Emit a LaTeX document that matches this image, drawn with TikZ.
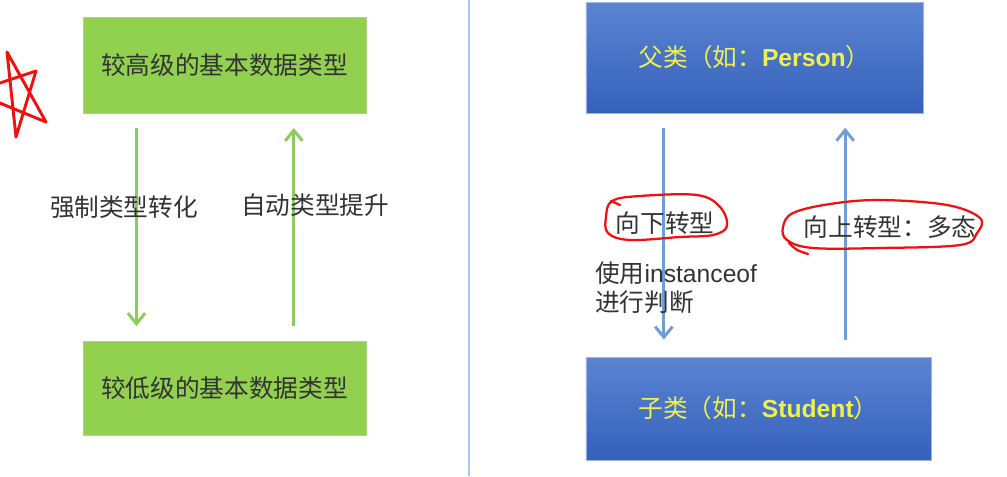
\documentclass[tikz,border=0pt]{standalone}
\usepackage{fontspec}
\setmainfont{Liberation Sans}
\newfontfamily\cjk{Noto Sans CJK SC}
\definecolor{tpGreen}{HTML}{92D050}
\definecolor{tpGreenLine}{HTML}{8DCB5A}
\definecolor{tpBlueTop}{HTML}{5B84D2}
\definecolor{tpBlueBot}{HTML}{3461BA}
\definecolor{tpBlueLine}{HTML}{6C9FD6}
\definecolor{tpSep}{HTML}{A9C7E8}
\definecolor{tpInk}{HTML}{333333}
\definecolor{tpYellow}{HTML}{F0F04C}
\definecolor{tpRed}{HTML}{F01010}
\usetikzlibrary{arrows.meta}

\begin{document}
\begin{tikzpicture}[x=0.75pt,y=-0.75pt,
                    font=\fontsize{18.5}{22}\selectfont,
                    typebox/.style={fill=tpGreen,draw=tpGreen!80!white,text=tpInk,
                                    minimum width=212pt,inner sep=0pt},
                    classbox/.style={top color=tpBlueTop,bottom color=tpBlueBot,
                                     draw=tpBlueTop!60!white,text=tpYellow,inner sep=0pt},
                    garrow/.style={tpGreenLine,line width=2.2pt,shorten <=11pt,shorten >=11pt,
                                   -{Straight Barb[length=8pt,width=13pt,line width=2.2pt]}},
                    barrow/.style={tpBlueLine,line width=2.2pt,
                                   -{Straight Barb[length=8pt,width=13pt,line width=2.2pt]}},
                    lbl/.style={text=tpInk,inner sep=0pt},
                    ring/.style={draw=tpRed,line width=1.7pt,line join=round,line cap=round}]
  \useasboundingbox (0,0) rectangle (1007,476);
  \clip (0,0) rectangle (1007,476);

  % left half: primitive types
  \node[typebox,minimum height=72pt] (high) at (224.5,65) {{\cjk 较高级的基本数据类型}};
  \node[typebox,minimum height=70.5pt] (low) at (224.5,388) {{\cjk 较低级的基本数据类型}};
  \draw[garrow] ([xshift=-66pt]high.south) -- ([xshift=-66pt]high.south |- low.north);
  \draw[garrow] ([xshift=52pt]high.south |- low.north) -- ([xshift=52pt]high.south);
  \node[lbl] (cast) at (124,207) {\cjk 强制类型转化};
  \node[lbl] (promote) at (315,205) {\cjk 自动类型提升};

  \draw[tpSep,line width=1.1pt] (469,0) -- (469,476);

  % right half: classes
  \node[classbox,minimum width=253pt,minimum height=83pt] (parent) at (754.5,57.5)
    {{\cjk 父类（如：}\textbf{Person}{\cjk ）}};
  \node[classbox,minimum width=259pt,minimum height=77pt] (child) at (758.5,408.5)
    {{\cjk 子类（如：}\textbf{Student}{\cjk ）}};
  \draw[barrow,shorten <=11pt,shorten >=13pt] ([xshift=-68pt]parent.south)
    -- ([xshift=-68pt]parent.south |- child.north);
  \draw[barrow,shorten <=13pt,shorten >=11pt] ([xshift=68pt]parent.south |- child.north)
    -- ([xshift=68pt]parent.south);
  \node[lbl] (down) at (665,223) {\cjk 向下转型};
  \node[lbl] (up) at (890,227) {\cjk 向上转型：多态};
  \node[lbl,anchor=west,align=left] (check) at (595,288)
    {{\cjk 使用}instanceof\\{\cjk 进行判断}};

  % hand-drawn marks
  \draw[ring] plot[smooth cycle,tension=0.6] coordinates {(612,201) (640,196) (697,195)
    (720,207) (727,226) (713,235) (680,237) (630,240) (608,233) (606,217)};
  \draw[ring] (611,201) -- (620,205);
  \draw[ring] plot[smooth cycle,tension=0.6] coordinates {(793,213) (830,204) (880,200)
    (947,205) (980,218) (977,233) (960,245) (880,248) (813,248) (787,240) (783,227)};
  \draw[ring] (789,243) .. controls (796,250) .. (808,254);
  \draw[ring,line width=2.2pt] (7,52) -- (46,122) -- (-27,92) -- (36,71) -- (16,137) -- cycle;
\end{tikzpicture}
\end{document}
